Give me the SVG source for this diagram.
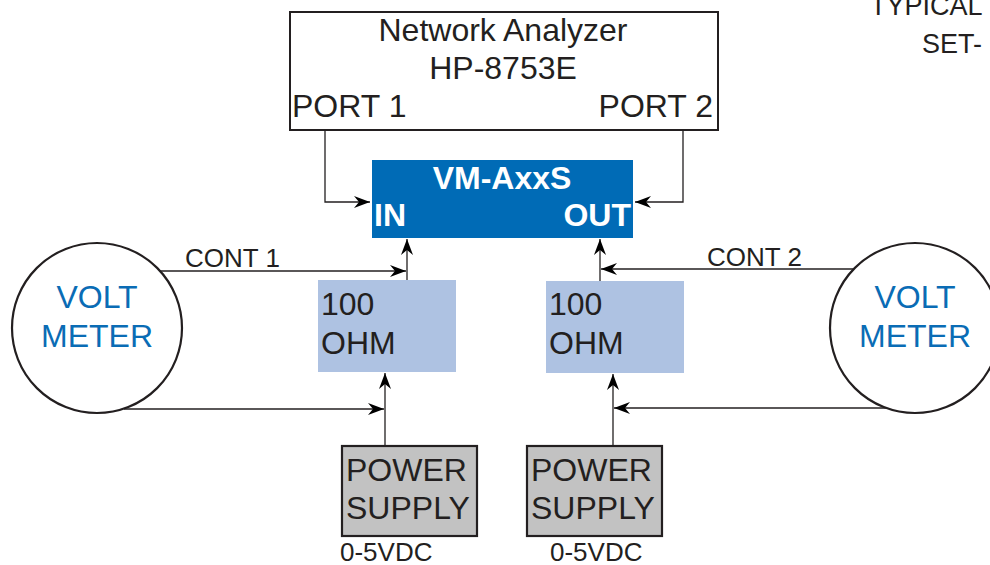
<svg xmlns="http://www.w3.org/2000/svg" width="990" height="565" viewBox="0 0 990 565">
<style>
text{font-family:"Liberation Sans",Arial,sans-serif;fill:#231f20}
.big{font-size:32px}
.med{font-size:26px}
.blue{fill:#0a6cb5}
.wb{fill:#ffffff;font-weight:bold;font-size:32px}
.ln{fill:none;stroke:#231f20;stroke-width:1.3}
.box{fill:#ffffff;stroke:#231f20;stroke-width:2}
.ohm{fill:#aec2e2}
.ps{fill:#c2c2c2;stroke:#231f20;stroke-width:2.2}
.circ{fill:#ffffff;stroke:#231f20;stroke-width:2.2}
</style>
<defs>
<marker id="arr" markerUnits="userSpaceOnUse" markerWidth="17" markerHeight="12" refX="16" refY="6" orient="auto">
<path d="M0,0 L16,6 L0,12 L5,6 Z" fill="#000"/>
</marker>
</defs>

<g id="title">
<text x="870" y="15" style="font-size:27px">TYPICAL</text>
<text x="922" y="53" style="font-size:27px">SET-</text>
</g>

<g id="analyzer">
<rect class="box" x="290" y="12" width="428" height="118"/>
<text class="big" x="503" y="41" text-anchor="middle">Network Analyzer</text>
<text class="big" x="503" y="79" text-anchor="middle">HP-8753E</text>
<text class="big" x="292" y="117">PORT 1</text>
<text class="big" x="713" y="117" text-anchor="end">PORT 2</text>
</g>

<g id="dut">
<rect x="372" y="160" width="261" height="78" fill="#006bb6"/>
<text class="wb" x="502" y="189" text-anchor="middle">VM-AxxS</text>
<text class="wb" x="374" y="226">IN</text>
<text class="wb" x="631" y="226" text-anchor="end">OUT</text>
</g>

<g id="voltmeter1">
<circle class="circ" cx="97" cy="328" r="85"/>
<text class="big blue" x="97" y="308" text-anchor="middle">VOLT</text>
<text class="big blue" x="97" y="347" text-anchor="middle">METER</text>
</g>

<g id="voltmeter2">
<circle class="circ" cx="915" cy="328" r="85"/>
<text class="big blue" x="915" y="308" text-anchor="middle">VOLT</text>
<text class="big blue" x="915" y="347" text-anchor="middle">METER</text>
</g>

<g id="ohm1">
<rect class="ohm" x="318" y="280" width="138" height="92"/>
<text class="big" x="321" y="315">100</text>
<text class="big" x="321" y="354">OHM</text>
</g>

<g id="ohm2">
<rect class="ohm" x="546" y="281" width="138" height="92"/>
<text class="big" x="549" y="315">100</text>
<text class="big" x="549" y="354">OHM</text>
</g>

<g id="ps1">
<rect class="ps" x="342" y="446" width="135" height="90"/>
<text class="big" x="346" y="481">POWER</text>
<text class="big" x="346" y="519">SUPPLY</text>
<text class="med" x="340" y="561">0-5VDC</text>
</g>

<g id="ps2">
<rect class="ps" x="527" y="446" width="135" height="90"/>
<text class="big" x="531" y="481">POWER</text>
<text class="big" x="531" y="519">SUPPLY</text>
<text class="med" x="550" y="561">0-5VDC</text>
</g>

<g id="connectors">
<path class="ln" d="M325,130 V202 H370" marker-end="url(#arr)"/>
<path class="ln" d="M683,130 V202 H635" marker-end="url(#arr)"/>
<path class="ln" d="M160,271 H406" marker-end="url(#arr)"/>
<path class="ln" d="M407,280 V239" marker-end="url(#arr)"/>
<path class="ln" d="M124,409 H384" marker-end="url(#arr)"/>
<path class="ln" d="M385,446 V373" marker-end="url(#arr)"/>
<path class="ln" d="M854,269 H601" marker-end="url(#arr)"/>
<path class="ln" d="M600,281 V239" marker-end="url(#arr)"/>
<path class="ln" d="M886,408 H614" marker-end="url(#arr)"/>
<path class="ln" d="M613,446 V374" marker-end="url(#arr)"/>
<text class="med" x="185" y="267">CONT 1</text>
<text class="med" x="707" y="266">CONT 2</text>
</g>
</svg>
